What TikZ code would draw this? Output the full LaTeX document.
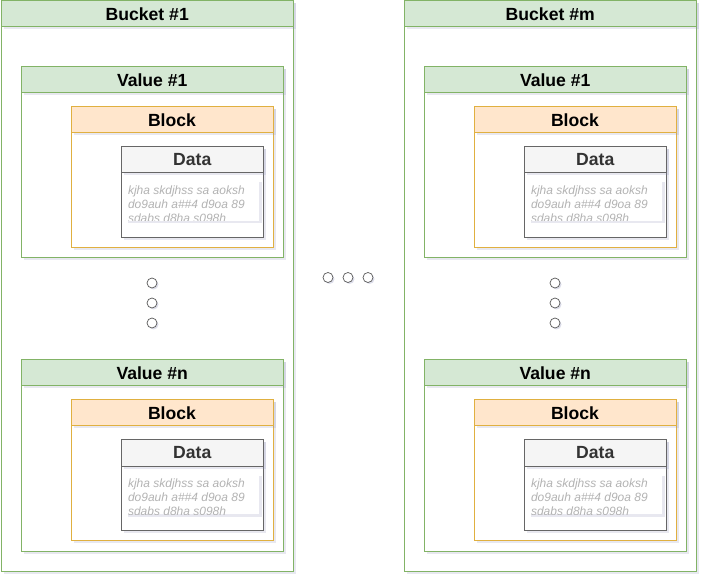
\documentclass[tikz,border=0pt]{standalone}
\usepackage{fontspec}
\setmainfont{Liberation Sans}
\usetikzlibrary{shadows}
\definecolor{gfill}{HTML}{D5E8D4}
\definecolor{gline}{HTML}{82B366}
\definecolor{ofill}{HTML}{FFE6CC}
\definecolor{oline}{HTML}{E0B040}
\definecolor{dfill}{HTML}{F5F5F5}
\definecolor{dline}{HTML}{666666}
\definecolor{dtext}{HTML}{333333}
\definecolor{ltext}{HTML}{B3B3B3}
\definecolor{shcol}{HTML}{8C8FB8}
\tikzset{
  box/.style={anchor=north west, inner sep=0pt, outer sep=0pt, line width=1pt},
  shad/.style={drop shadow={shadow xshift=2.5pt, shadow yshift=-2.5pt, opacity=0.2, fill=shcol}},
  gbody/.style={box, shad, draw=gline, fill=white},
  ghead/.style={box, shad, draw=gline, fill=gfill, font=\bfseries\fontsize{17.6}{20}\selectfont},
  obody/.style={box, shad, draw=oline, fill=white},
  ohead/.style={box, shad, draw=oline, fill=ofill, font=\bfseries\fontsize{17.6}{20}\selectfont},
  dbody/.style={box, shad, draw=dline, fill=white},
  dhead/.style={box, shad, draw=dline, fill=dfill, text=dtext, font=\bfseries\fontsize{17.6}{20}\selectfont},
  tbox/.style={box, shad, fill=white},
  ltxt/.style={anchor=north west, inner sep=0pt, outer sep=0pt, align=left, text=ltext, font=\itshape\fontsize{12}{14}\selectfont},
  dotc/.style={circle, draw=black!65, fill=white, line width=0.7pt, minimum size=10pt, inner sep=0pt,
    drop shadow={shadow xshift=1.5pt, shadow yshift=-1.5pt, opacity=0.3, fill=shcol}},
}
\begin{document}
\begin{tikzpicture}[x=1pt, y=-1pt]
\useasboundingbox (0,0) rectangle (702,577);
\foreach \bx/\bn/\bl in {1/a/1, 404/b/m} {
  \node[gbody, minimum width=292.5pt, minimum height=570pt] (bk\bn) at (\bx,1) {};
  \node[ghead, minimum width=292.5pt, minimum height=26pt] (bkh\bn) at (\bx,1) {Bucket \#\bl};
  \foreach \vy/\vn/\vl in {67/1/1, 360/n/n} {
    \node[gbody, minimum width=262.5pt, minimum height=191pt] (v\bn\vn) at (\bx+20,\vy) {};
    \node[ghead, minimum width=262.5pt, minimum height=25.5pt] (vh\bn\vn) at (\bx+20,\vy) {Value \#\vl};
    \node[obody, minimum width=202pt, minimum height=140.5pt] (k\bn\vn) at (\bx+70,\vy+40) {};
    \node[ohead, minimum width=202pt, minimum height=26pt] (kh\bn\vn) at (\bx+70,\vy+40) {Block};
    \node[dbody, minimum width=141.5pt, minimum height=90.5pt] (d\bn\vn) at (\bx+120.5,\vy+80) {};
    \node[dhead, minimum width=141.5pt, minimum height=26pt] (dh\bn\vn) at (\bx+120.5,\vy+80) {Data};
    \node[tbox, minimum width=134pt, minimum height=41pt] (t\bn\vn) at (\bx+124,\vy+113) {};
    \begin{scope}
      \clip (t\bn\vn.north west) rectangle (t\bn\vn.south east);
      \node[ltxt] (tx\bn\vn) at (\bx+127,\vy+118.5) {kjha skdjhss sa aoksh\\do9auh a\#\#4 d9oa 89\\sdabs d8ha s098h};
    \end{scope}
  }
  \node[dotc] (p\bn1) at (\bx+151,283) {};
  \node[dotc] (p\bn2) at (\bx+151,303) {};
  \node[dotc] (p\bn3) at (\bx+151,323) {};
}
\node[dotc] (h1) at (328,277.5) {};
\node[dotc] (h2) at (348,277.5) {};
\node[dotc] (h3) at (368,277.5) {};
\end{tikzpicture}
\end{document}
